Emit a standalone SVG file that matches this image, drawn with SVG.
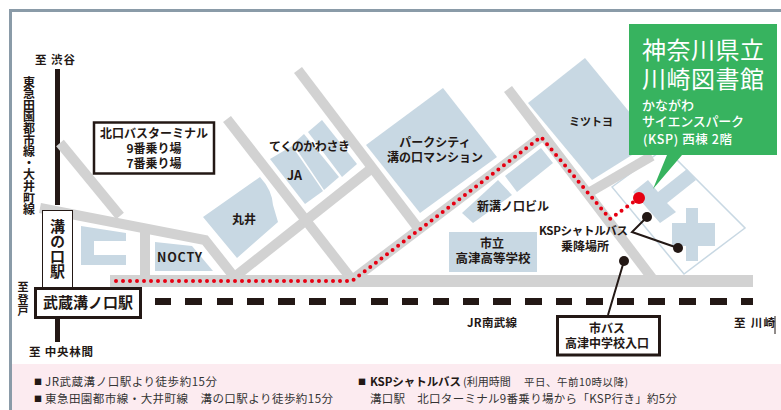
<svg xmlns="http://www.w3.org/2000/svg" width="781" height="410" viewBox="0 0 781 410">
<style>
text{font-family:"Noto Sans CJK JP","Noto Sans",sans-serif;fill:#231815;font-weight:700}
.c{text-anchor:middle}
.s{font-size:12px}
.v{writing-mode:vertical-rl}
.n{font-size:11.5px;fill:#333;font-weight:400}
.m{font-size:8px;fill:#231815;font-weight:400}
.t{fill:#fff;font-weight:500}
.b{fill:#c8d8e3}
.r{fill:none;stroke:#d2d2d2}
.k{fill:none;stroke:#231815}
.box{fill:#fff;stroke:#231815}
</style>
<rect width="781" height="410" fill="#fff"/>
<path d="M10.500 410V10.500H781" fill="none" stroke="#8a9ba8" stroke-width="3"/>
<rect x="12" y="364" width="769" height="46" fill="#fcebf0"/>

<g id="blocks">
<path class="b" d="M81 226L126 233V241H94V255H126V265H81Z"/>
<path class="b" d="M155 242L192 246L213 271H155Z"/>
<path class="b" d="M203 217L260 177Q272 190 273 205L278 222L237 258Z"/>
<path class="b" d="M270 159L292 146L323 191L305 204Z"/>
<path class="b" d="M293 144L304 134L339 177L324 190Z"/>
<path class="b" d="M308 132L322 120L357 164L342 177Z"/>
<path class="b" d="M366 145L443 88L497 157L420 213Z"/>
<path class="b" d="M462 213L498 180L512 195L473 223Z"/>
<path class="b" d="M505 176L541 148L553 163L517 192Z"/>
<rect class="b" x="449" y="232" width="88" height="40"/>
<path class="b" d="M528 103L585 58L640 125V150L592 180Z"/>
<path d="M612 187L665 148L745 228L684 274Z" fill="none" stroke="#c8d8e3" stroke-width="1.500"/>
<path class="b" d="M633 192L648 180L658 192L687 169L696 180L667 203L676 212L660 223Z"/>
<path class="b" d="M686 208H698V223H715V246H698V261H686V246H672V223H686Z"/>
</g>

<g id="connectors">
<path class="k" d="M57.500 69V205" stroke-width="5"/>
<path class="k" d="M57.500 318V342" stroke-width="5"/>
<path class="r" stroke-width="12" d="M110 281H753"/>
<g class="r" stroke-width="10">
<path class="r" d="M40 208L205 240L235 278"/>
<path class="r" d="M60 143L120 216"/>
<path class="r" d="M145 226V276"/>
<path class="r" d="M232 279L372 168"/>
<path class="r" d="M227 119L350 277"/>
<path class="r" d="M298 70L421 232"/>
<path class="r" d="M508 89L652 278"/>
<path class="r" d="M590 192L652 156"/>
</g>
<path class="r" stroke-width="10" d="M352 280L541 137"/>
<path d="M116 281H352L541 137L610 219L639 198" fill="none" stroke="#e60012" stroke-width="4" stroke-linecap="round" stroke-dasharray="0 7"/>
<path class="k" stroke-width="7" d="M155 301.500H171M185 301.500H202M217 301.500H233M247 301.500H264M278 301.500H295M309 301.500H326M340 301.500H356M371 301.500H388M402 301.500H418M433 301.500H449M463 301.500H479M493 301.500H511M525 301.500H542M556 301.500H572M586 301.500H603M617 301.500H634M648 301.500H665M679 301.500H696M710 301.500H727M741 301.500H753"/>
<path class="k" stroke-width="2" d="M647 217L632 232L678 248M624 261L608 315"/>
<circle cx="647" cy="217" r="5" fill="#231815"/>
<circle cx="678" cy="248" r="5" fill="#231815"/>
<circle cx="624" cy="261" r="5" fill="#231815"/>
<path d="M775 316V334" stroke="#231815" stroke-width="1"/>
</g>

<circle cx="639" cy="198" r="6" fill="#e60012"/>

<g id="callout">
<path fill="#37b35f" d="M629 24H777V155H682L653 189L667 155H629Z"/>
<text class="t" x="642" y="59" font-size="24" textLength="122" style="font-weight:400">神奈川県立</text>
<text class="t" x="642" y="88" font-size="24" textLength="122" style="font-weight:400">川崎図書館</text>
<text class="t" x="642" y="110" font-size="13">かながわ</text>
<text class="t" x="642" y="126" font-size="13" textLength="102">サイエンスパーク</text>
<text class="t" x="643" y="144" font-size="12.500" textLength="89">(KSP) 西棟 2階</text>
</g>

<g id="station-mizonokuchi">
<rect class="box" x="42.500" y="210.500" width="30" height="77" stroke-width="1"/>
<text class="v" x="57.500" y="219" font-size="15">溝の口駅</text>
</g>
<g id="station-musashi">
<rect class="box" x="35.500" y="288.500" width="105" height="29" stroke-width="3"/>
<text class="c" x="88" y="308" font-size="15">武蔵溝ノ口駅</text>
</g>
<g id="bus-terminal">
<rect class="box" x="94" y="122.500" width="120" height="51" stroke-width="2.500"/>
<text class="c s" x="154" y="138">北口バスターミナル</text>
<text class="c s" x="154" y="153">9番乗り場</text>
<text class="c s" x="154" y="168">7番乗り場</text>
</g>
<g id="city-bus">
<rect class="box" x="557.500" y="316.500" width="102" height="38.500" stroke-width="3"/>
<text class="c s" x="607" y="333">市バス</text>
<text class="c s" x="607" y="348">高津中学校入口</text>
</g>

<g id="labels">
<text x="35" y="64" font-size="11.500" textLength="40">至 渋谷</text>
<text class="v" x="29" y="76" font-size="12" letter-spacing="-0.400">東急田園都市線・大井町線</text>
<text class="v" x="23" y="281" font-size="11">至 登戸</text>
<text x="29" y="356" font-size="11.500" textLength="64">至 中央林間</text>
<text x="467" y="327" font-size="11.500" textLength="50">JR南武線</text>
<text x="734" y="327" font-size="11.500" textLength="41">至 川崎</text>
<text x="157" y="262" font-size="12.500" textLength="45">NOCTY</text>
<text class="s" x="232" y="224">丸井</text>
<text class="s" x="269" y="151" textLength="81">てくのかわさき</text>
<text x="287" y="180" font-size="12.500">JA</text>
<text class="c s" x="435" y="147">パークシティ</text>
<text class="c s" x="435" y="161.500">溝の口マンション</text>
<text x="569" y="126" font-size="11">ミツトヨ</text>
<text class="s" x="477" y="211">新溝ノ口ビル</text>
<text class="c s" x="492" y="248">市立</text>
<text class="c" x="493" y="263" font-size="12.500">高津高等学校</text>
<text x="539" y="235" font-size="11.500" textLength="89">KSPシャトルバス</text>
<text class="c s" x="585" y="251">乗降場所</text>
</g>

<g id="notes">
<text class="m" x="34" y="385">■</text>
<text class="n" x="45" y="386" textLength="172">JR武蔵溝ノ口駅より徒歩約15分</text>
<text class="m" x="34" y="402">■</text>
<text class="n" x="45" y="403" textLength="288">東急田園都市線・大井町線　溝の口駅より徒歩約15分</text>
<text class="m" x="358" y="385">■</text>
<text x="370" y="386" font-size="11.500" textLength="91">KSPシャトルバス</text>
<text class="n" x="463" y="386" style="font-size:11px">(利用時間</text>
<text class="n" x="524" y="386" style="font-size:10.500px" textLength="104">平日、午前10時以降)</text>
<text class="n" x="370" y="403" textLength="307">溝口駅　北口ターミナル9番乗り場から「KSP行き」約5分</text>
</g>
</svg>
